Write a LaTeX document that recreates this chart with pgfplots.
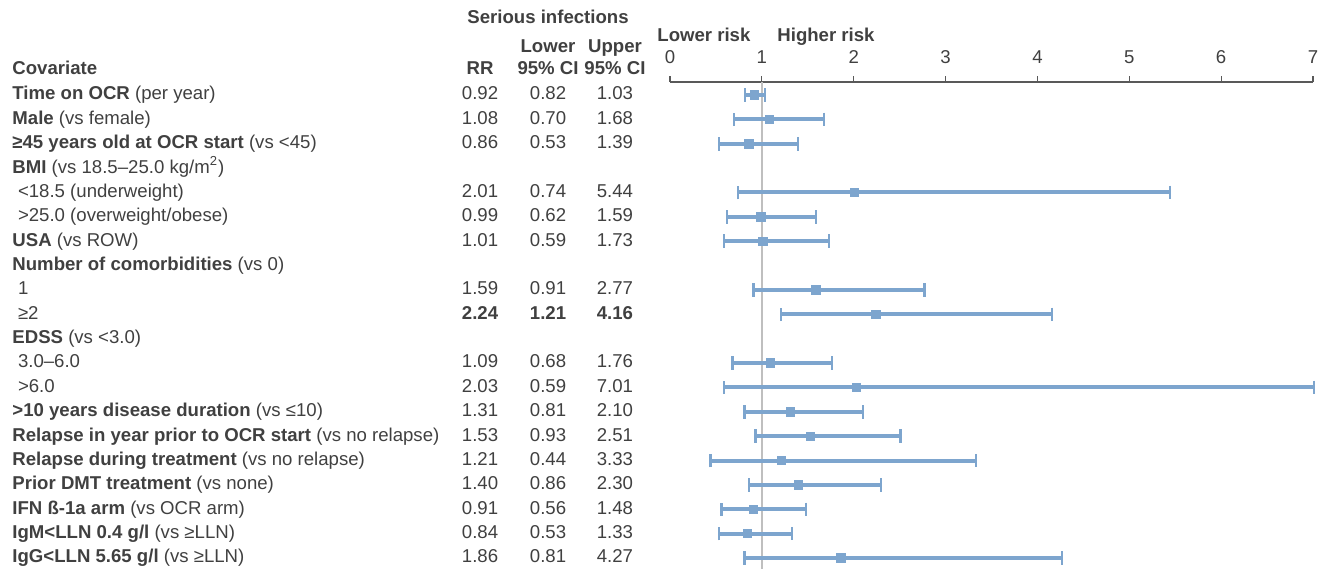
\documentclass[border=0pt]{standalone}
\usepackage{pgfplots}
\pgfplotsset{compat=1.18}
\usepackage{pgfplotstable}
\usepackage{fontspec}
\setmainfont{Liberation Sans}
\definecolor{barblue}{RGB}{125,165,206}
\definecolor{txt}{RGB}{64,64,64}
\definecolor{refgray}{RGB}{191,191,191}
\definecolor{axgray}{RGB}{89,89,89}

\pgfplotstableread{
row rr lo hi
1 0.92 0.82 1.03
2 1.08 0.70 1.68
3 0.86 0.53 1.39
5 2.01 0.74 5.44
6 0.99 0.62 1.59
7 1.01 0.59 1.73
9 1.59 0.91 2.77
10 2.24 1.21 4.16
12 1.09 0.68 1.76
13 2.03 0.59 7.01
14 1.31 0.81 2.10
15 1.53 0.93 2.51
16 1.21 0.44 3.33
17 1.40 0.86 2.30
18 0.91 0.56 1.48
19 0.84 0.53 1.33
20 1.86 0.81 4.27
}\data

\newcommand{\lab}[2]{\node[anchor=mid west, inner sep=0pt, text=txt] at (axis cs:-7.163,-#1) {#2};}
\newcommand{\vals}[4]{%
 \node[anchor=mid, inner sep=0pt, text=txt] at (axis cs:-2.068,-#1) {#2};
 \node[anchor=mid, inner sep=0pt, text=txt] at (axis cs:-1.328,-#1) {#3};
 \node[anchor=mid, inner sep=0pt, text=txt] at (axis cs:-0.599,-#1) {#4};}
\newcommand{\ind}{\hspace{0.3em}}

\begin{document}
\fontsize{9.3pt}{11pt}\selectfont
\begin{tikzpicture}
\path[use as bounding box] (0,0) rectangle (661.5pt,-284.5pt);
\begin{axis}[
  at={(335pt,-41pt)}, anchor=north west,
  width=321.5pt, height=243.5pt, scale only axis,
  xmin=0, xmax=7, ymin=-20.45, ymax=-0.467,
  clip=false,
  separate axis lines,
  axis x line*=top, axis y line=none,
  x axis line style={-, draw=axgray, line width=0.75pt},
  xtick={0,1,2,3,4,5,6,7},
  tick align=outside,
  major tick length=3pt,
  tick style={axgray, line width=0.6pt},
  xticklabel style={text=txt, font=\fontsize{9.3pt}{11pt}\selectfont, yshift=3pt},
  /pgf/number format/assume math mode=true,
  ytick=\empty,
]
\addplot[refgray, line width=1.2pt, forget plot] coordinates {(1,-0.467) (1,-20.45)};
% confidence-interval lines
\addplot[draw=barblue, line width=2pt, mark=none, forget plot,
  quiver={u=\thisrow{hi}-\thisrow{lo}, v=0, every arrow/.append style={line width=2pt}}]
  table[x=lo, y expr=-\thisrow{row}] {\data};
% caps and point estimates
\addplot[only marks, mark=square*, mark size=2.1pt, color=barblue,
  error bars/.cd, x dir=both, x explicit,
  error bar style={line width=1.4pt, draw=barblue},
  error mark options={rotate=90, mark size=3.4pt, line width=1.1pt, draw=barblue}]
  table[x=rr, y expr=-\thisrow{row},
        x error minus expr=\thisrow{rr}-\thisrow{lo},
        x error plus expr=\thisrow{hi}-\thisrow{rr}] {\data};

% headers
\node[anchor=mid, inner sep=0pt, text=txt, font=\bfseries] at (axis cs:-1.328,2.12) {Serious infections};
\node[anchor=mid west, inner sep=0pt, text=txt, font=\bfseries] at (axis cs:-0.1415,1.38) {Lower risk};
\node[anchor=mid west, inner sep=0pt, text=txt, font=\bfseries] at (axis cs:1.165,1.38) {Higher risk};
\node[anchor=mid, inner sep=0pt, text=txt, font=\bfseries] at (axis cs:-1.328,0.93) {Lower};
\node[anchor=mid, inner sep=0pt, text=txt, font=\bfseries] at (axis cs:-0.599,0.93) {Upper};
\node[anchor=mid west, inner sep=0pt, text=txt, font=\bfseries] at (axis cs:-7.163,0.026) {Covariate};
\node[anchor=mid, inner sep=0pt, text=txt, font=\bfseries] at (axis cs:-2.068,0.026) {RR};
\node[anchor=mid, inner sep=0pt, text=txt, font=\bfseries] at (axis cs:-1.328,0.026) {95\% CI};
\node[anchor=mid, inner sep=0pt, text=txt, font=\bfseries] at (axis cs:-0.599,0.026) {95\% CI};

\lab{1}{\textbf{Time on OCR} (per year)}\vals{1}{0.92}{0.82}{1.03}
\lab{2}{\textbf{Male} (vs female)}\vals{2}{1.08}{0.70}{1.68}
\lab{3}{\textbf{≥45 years old at OCR start} (vs <45)}\vals{3}{0.86}{0.53}{1.39}
\lab{4}{\textbf{BMI} (vs 18.5–25.0 kg/m\textsuperscript{2})}
\lab{5}{\ind<18.5 (underweight)}\vals{5}{2.01}{0.74}{5.44}
\lab{6}{\ind>25.0 (overweight/obese)}\vals{6}{0.99}{0.62}{1.59}
\lab{7}{\textbf{USA} (vs ROW)}\vals{7}{1.01}{0.59}{1.73}
\lab{8}{\textbf{Number of comorbidities} (vs 0)}
\lab{9}{\ind 1}\vals{9}{1.59}{0.91}{2.77}
\lab{10}{\ind≥2}\vals{10}{\textbf{2.24}}{\textbf{1.21}}{\textbf{4.16}}
\lab{11}{\textbf{EDSS} (vs <3.0)}
\lab{12}{\ind 3.0–6.0}\vals{12}{1.09}{0.68}{1.76}
\lab{13}{\ind>6.0}\vals{13}{2.03}{0.59}{7.01}
\lab{14}{\textbf{>10 years disease duration} (vs ≤10)}\vals{14}{1.31}{0.81}{2.10}
\lab{15}{\textbf{Relapse in year prior to OCR start} (vs no relapse)}\vals{15}{1.53}{0.93}{2.51}
\lab{16}{\textbf{Relapse during treatment} (vs no relapse)}\vals{16}{1.21}{0.44}{3.33}
\lab{17}{\textbf{Prior DMT treatment} (vs none)}\vals{17}{1.40}{0.86}{2.30}
\lab{18}{\textbf{IFN ß-1a arm} (vs OCR arm)}\vals{18}{0.91}{0.56}{1.48}
\lab{19}{\textbf{IgM<LLN 0.4 g/l} (vs ≥LLN)}\vals{19}{0.84}{0.53}{1.33}
\lab{20}{\textbf{IgG<LLN 5.65 g/l} (vs ≥LLN)}\vals{20}{1.86}{0.81}{4.27}
\end{axis}
\end{tikzpicture}
\end{document}
